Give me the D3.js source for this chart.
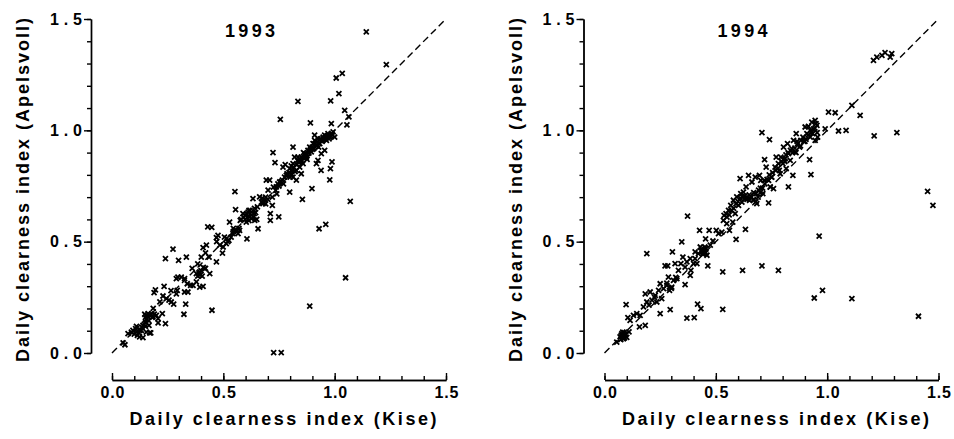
<!DOCTYPE html>
<html>
<head>
<meta charset="utf-8">
<script src="https://cdn.jsdelivr.net/npm/d3@7"></script>
<style>
  body { margin: 0; background: #fff; }
  text { font-family: "Liberation Sans", Arial, sans-serif; font-weight: bold; fill: #000; }
</style>
</head>
<body>
<div id="chart"></div>
<script>
const width = 954, height = 439;

// 1993: Kise (x) vs Apelsvoll (y) daily clearness index
const kise1993 = [
  1.142, 1.232, 1.007, 1.034, 1.019, 0.835, 0.982, 1.045, 1.064, 1.055, 0.756, 0.891, 0.985,
  0.723, 0.732, 0.778, 0.813, 0.988, 0.981, 0.939, 0.918, 0.978, 0.898, 0.855, 1.070, 0.798,
  0.749, 0.711, 0.930, 0.960, 1.049, 0.888, 0.726, 0.760, 0.449, 0.552, 0.555, 0.430, 0.448,
  0.274, 0.240, 0.299, 0.334, 0.331, 0.323, 0.240, 0.234, 0.195, 0.189, 0.058, 0.050, 0.169, 0.124,
  0.072, 0.087, 0.094, 0.106, 0.114, 0.132, 0.139, 0.151, 0.147, 0.162, 0.177, 0.184, 0.166,
  0.174, 0.154, 0.199, 0.207, 0.226, 0.207, 0.139, 0.121,
  0.229, 0.244, 0.256, 0.266, 0.277, 0.289, 0.293, 0.289, 0.296, 0.311, 0.326, 0.338, 0.341,
  0.326, 0.353, 0.364, 0.379, 0.394, 0.409, 0.379, 0.394, 0.416, 0.401, 0.409, 0.424, 0.436,
  0.439, 0.469, 0.476, 0.469, 0.496, 0.484, 0.499, 0.513, 0.525, 0.543, 0.528, 0.551, 0.566,
  0.573, 0.576, 0.588, 0.600, 0.611, 0.618, 0.603, 0.606, 0.633, 0.626, 0.638, 0.641, 0.653,
  0.656, 0.663, 0.671, 0.678, 0.686, 0.693, 0.701, 0.708, 0.711, 0.720, 0.738, 0.745, 0.753,
  0.765, 0.775, 0.786, 0.798, 0.805, 0.813, 0.820, 0.828, 0.835, 0.843, 0.850, 0.858, 0.865,
  0.873, 0.880, 0.888, 0.895, 0.903, 0.910, 0.918, 0.925, 0.933, 0.940, 0.948, 0.955, 0.963,
  0.970, 0.978, 0.985, 1.000, 0.993, 0.910, 0.828, 0.850, 0.813, 0.783, 0.768, 0.925, 0.940,
  0.955, 0.580, 0.615, 0.640, 0.690, 0.725, 0.760, 0.790, 0.805, 0.840, 0.870, 0.900, 0.920,
  0.950, 0.968, 0.545, 0.505, 0.470, 0.420, 0.385, 0.360, 0.265, 0.215, 0.185, 0.150, 0.110,
  0.830, 0.838, 0.845, 0.853, 0.862, 0.868, 0.876, 0.884, 0.892, 0.899, 0.906, 0.913, 0.921,
  0.928, 0.936, 0.944, 0.951, 0.958, 0.966, 0.975, 0.983, 0.990, 0.815, 0.822, 0.808, 0.800,
  0.795, 0.860, 0.835, 0.605, 0.612, 0.620, 0.628, 0.635, 0.598, 0.590, 0.615, 0.645, 0.650,
  0.560, 0.570, 0.545, 0.535, 0.520, 0.515, 0.680, 0.690, 0.700, 0.675, 0.720, 0.735, 0.750,
  0.740, 0.770, 0.135, 0.145, 0.155, 0.160, 0.170, 0.180, 0.190, 0.125, 0.110, 0.100, 0.165,
  0.150, 0.390, 0.400, 0.410, 0.420, 0.395, 0.405, 0.385
];
const apel1993 = [
  1.442, 1.295, 1.235, 1.256, 1.165, 1.130, 1.132, 1.090, 1.060, 1.025, 1.049, 1.034, 1.030,
  0.900, 0.855, 0.846, 0.925, 0.858, 0.828, 0.820, 0.850, 0.778, 0.738, 0.690, 0.681, 0.722,
  0.611, 0.596, 0.558, 0.578, 0.338, 0.211, 0.002, 0.002, 0.192, 0.725, 0.644, 0.566, 0.564,
  0.466, 0.424, 0.416, 0.431, 0.219, 0.174, 0.132, 0.299, 0.284, 0.271, 0.037, 0.045, 0.090, 0.072,
  0.087, 0.094, 0.102, 0.109, 0.079, 0.102, 0.124, 0.139, 0.174, 0.177, 0.174, 0.162, 0.124,
  0.090, 0.094, 0.169, 0.154, 0.177, 0.135, 0.069, 0.090,
  0.256, 0.244, 0.237, 0.229, 0.219, 0.266, 0.281, 0.334, 0.341, 0.341, 0.334, 0.311, 0.274,
  0.274, 0.304, 0.304, 0.319, 0.296, 0.299, 0.356, 0.364, 0.379, 0.431, 0.473, 0.484, 0.431,
  0.356, 0.518, 0.528, 0.409, 0.449, 0.484, 0.476, 0.491, 0.506, 0.536, 0.588, 0.551, 0.536,
  0.551, 0.596, 0.626, 0.618, 0.633, 0.611, 0.588, 0.513, 0.693, 0.603, 0.626, 0.596, 0.656,
  0.558, 0.701, 0.678, 0.671, 0.686, 0.776, 0.731, 0.776, 0.626, 0.663, 0.746, 0.760, 0.768,
  0.776, 0.790, 0.805, 0.828, 0.805, 0.850, 0.880, 0.820, 0.865, 0.835, 0.805, 0.850, 0.895,
  0.880, 0.910, 0.925, 0.903, 0.940, 0.955, 0.933, 0.963, 0.940, 0.955, 0.970, 0.978, 0.955,
  0.985, 0.970, 0.985, 0.970, 0.993, 0.978, 0.776, 0.880, 0.790, 0.798, 0.835, 0.865, 0.895,
  0.910, 0.600, 0.640, 0.650, 0.700, 0.745, 0.770, 0.800, 0.840, 0.860, 0.890, 0.915, 0.930,
  0.960, 0.975, 0.560, 0.520, 0.500, 0.450, 0.400, 0.380, 0.280, 0.230, 0.200, 0.160, 0.120,
  0.845, 0.858, 0.870, 0.862, 0.875, 0.890, 0.870, 0.898, 0.915, 0.925, 0.918, 0.940, 0.948,
  0.925, 0.962, 0.950, 0.958, 0.968, 0.975, 0.962, 0.975, 0.980, 0.835, 0.815, 0.818, 0.790,
  0.810, 0.900, 0.880, 0.625, 0.615, 0.640, 0.620, 0.610, 0.600, 0.610, 0.595, 0.630, 0.600,
  0.550, 0.560, 0.545, 0.520, 0.500, 0.515, 0.680, 0.670, 0.690, 0.695, 0.700, 0.730, 0.750,
  0.715, 0.760, 0.115, 0.130, 0.150, 0.165, 0.170, 0.160, 0.175, 0.100, 0.095, 0.085, 0.145,
  0.120, 0.360, 0.370, 0.385, 0.380, 0.350, 0.345, 0.345
];

// 1994
const kise1994 = [
  1.208, 1.223, 1.246, 1.260, 1.290, 1.283, 1.006, 1.036, 1.111, 1.148, 1.051, 1.085, 1.211,
  1.313, 0.991, 0.707, 0.741, 0.719, 0.921, 0.927, 0.826, 0.737, 1.451, 1.475, 0.964, 0.942,
  0.979, 1.111, 1.410, 0.707, 0.781, 0.620, 0.531, 0.464, 0.531, 0.433, 0.418, 0.403, 0.370,
  0.373, 0.591, 0.633, 0.295, 0.250, 0.157, 0.183, 0.097, 0.105, 0.115, 0.190, 0.305, 0.347,
  0.362, 0.280, 0.272, 0.284,
  0.055, 0.070, 0.078, 0.085, 0.082, 0.093, 0.073, 0.130, 0.145, 0.160, 0.175, 0.183, 0.205,
  0.190, 0.213, 0.228, 0.235, 0.243, 0.250, 0.257, 0.265, 0.280, 0.287, 0.292, 0.302, 0.310,
  0.325, 0.317, 0.332, 0.343, 0.352, 0.362, 0.370, 0.385, 0.388, 0.385, 0.400, 0.407, 0.407,
  0.415, 0.422, 0.427, 0.430, 0.437, 0.445, 0.451, 0.454, 0.460, 0.470, 0.475, 0.487, 0.502,
  0.512, 0.527, 0.534, 0.537, 0.546, 0.557, 0.549, 0.561, 0.567, 0.576, 0.579, 0.587, 0.594,
  0.602, 0.609, 0.612, 0.617, 0.624, 0.632, 0.636, 0.647, 0.651, 0.657, 0.662, 0.669, 0.677,
  0.681, 0.684, 0.692, 0.696, 0.702, 0.711, 0.717, 0.726, 0.737, 0.744, 0.751, 0.759, 0.766,
  0.771, 0.781, 0.789, 0.792, 0.801, 0.804, 0.811, 0.816, 0.822, 0.826, 0.834, 0.841, 0.849,
  0.846, 0.856, 0.861, 0.867, 0.876, 0.882, 0.891, 0.901, 0.909, 0.916, 0.924, 0.931, 0.939,
  0.946, 0.954, 0.957, 0.946, 0.440, 0.455, 0.640, 0.670, 0.700, 0.750, 0.785, 0.810, 0.860,
  0.900, 0.930, 0.090, 0.100, 0.110, 0.200, 0.225, 0.300, 0.320,
  0.550, 0.560, 0.570, 0.580, 0.590, 0.600, 0.610, 0.620, 0.630, 0.640, 0.650, 0.660, 0.670,
  0.680, 0.690, 0.700, 0.710, 0.720, 0.730, 0.740, 0.755, 0.770, 0.780, 0.795, 0.805, 0.815,
  0.825, 0.835, 0.845, 0.855, 0.865, 0.880, 0.895, 0.905, 0.915, 0.925, 0.935, 0.945, 0.955,
  0.950, 0.080, 0.090, 0.095, 0.088, 0.075, 0.435, 0.445, 0.450, 0.440, 0.455
];
const apel1994 = [
  1.314, 1.329, 1.337, 1.349, 1.344, 1.329, 1.082, 1.079, 1.112, 1.067, 0.997, 1.000, 0.975,
  0.990, 1.007, 0.990, 0.958, 0.868, 0.868, 0.801, 0.746, 0.674, 0.726, 0.663, 0.525, 0.247,
  0.281, 0.244, 0.165, 0.391, 0.371, 0.371, 0.364, 0.391, 0.196, 0.199, 0.219, 0.159, 0.157,
  0.615, 0.510, 0.555, 0.195, 0.177, 0.117, 0.124, 0.217, 0.159, 0.147, 0.446, 0.454, 0.499,
  0.307, 0.314, 0.391, 0.391,
  0.049, 0.072, 0.087, 0.064, 0.094, 0.079, 0.060, 0.169, 0.177, 0.169, 0.207, 0.266, 0.274,
  0.229, 0.237, 0.259, 0.229, 0.281, 0.311, 0.244, 0.289, 0.304, 0.341, 0.281, 0.296, 0.326,
  0.334, 0.401, 0.371, 0.401, 0.431, 0.386, 0.409, 0.424, 0.371, 0.349, 0.401, 0.424, 0.454,
  0.401, 0.446, 0.551, 0.476, 0.454, 0.446, 0.476, 0.513, 0.439, 0.551, 0.484, 0.503, 0.551,
  0.536, 0.543, 0.596, 0.618, 0.626, 0.641, 0.581, 0.551, 0.663, 0.588, 0.686, 0.626, 0.701,
  0.663, 0.783, 0.716, 0.678, 0.723, 0.693, 0.746, 0.798, 0.686, 0.701, 0.768, 0.686, 0.790,
  0.716, 0.671, 0.731, 0.798, 0.775, 0.716, 0.775, 0.835, 0.775, 0.746, 0.790, 0.738, 0.835,
  0.880, 0.850, 0.805, 0.880, 0.850, 0.925, 0.873, 0.828, 0.940, 0.895, 0.865, 0.918, 0.955,
  0.798, 0.903, 0.985, 0.940, 0.925, 0.955, 0.970, 1.015, 0.985, 1.018, 0.970, 1.037, 1.007,
  1.045, 1.022, 0.970, 0.955, 0.460, 0.470, 0.690, 0.720, 0.740, 0.790, 0.820, 0.860, 0.900,
  0.950, 0.990, 0.085, 0.070, 0.095, 0.215, 0.250, 0.290, 0.340,
  0.610, 0.620, 0.640, 0.650, 0.670, 0.680, 0.695, 0.700, 0.705, 0.700, 0.710, 0.700, 0.690,
  0.680, 0.700, 0.720, 0.740, 0.760, 0.780, 0.800, 0.810, 0.820, 0.830, 0.860, 0.870, 0.890,
  0.900, 0.910, 0.900, 0.920, 0.950, 0.930, 0.950, 0.960, 0.980, 1.000, 0.985, 1.010, 0.990,
  1.030, 0.075, 0.068, 0.085, 0.092, 0.080, 0.460, 0.455, 0.465, 0.445, 0.450
];

const panels = [
  { title: "1993", kise: kise1993, apel: apel1993, left: 112, labelX: 29 },
  { title: "1994", kise: kise1994, apel: apel1994, left: 604.5, labelX: 522 }
];
const majorTicks = [0, 0.5, 1.0, 1.5];
const minorTicks = d3.range(0, 16).map(i => i / 10);

const size = 334, topY = 19;

const svg = d3.select("#chart")
  .append("svg")
  .attr("width", width)
  .attr("height", height);

function styleAxis(sel) {
  sel.attr("font-family", null).attr("font-size", 16);
  sel.selectAll(".domain").attr("stroke", "#000").attr("stroke-width", 1.4);
  sel.selectAll(".tick line").attr("stroke", "#000").attr("stroke-width", 1.4);
}

panels.forEach(p => {
  const g = svg.append("g").attr("transform", `translate(${p.left},${topY})`);
  const x = d3.scaleLinear().domain([0, 1.5]).range([0, size]);
  const y = d3.scaleLinear().domain([0, 1.5]).range([size, 0]);

  // y axis, shifted left of the plot area
  g.append("g").attr("transform", "translate(-21,0)")
    .call(d3.axisLeft(y).tickValues(minorTicks).tickSize(4).tickSizeOuter(0).tickFormat(""))
    .call(styleAxis);
  const yg = g.append("g").attr("transform", "translate(-21,0)")
    .call(d3.axisLeft(y).tickValues(majorTicks).tickSize(7).tickSizeOuter(0)
      .tickPadding(2).tickFormat(d3.format(".1f")))
    .call(styleAxis);
  yg.selectAll(".tick text")
    .attr("textLength", 32).attr("lengthAdjust", "spacing");

  // x axis below the plot area, ticks pointing up
  g.append("g").attr("transform", `translate(0,${size + 27})`)
    .call(d3.axisBottom(x).tickValues(minorTicks).tickSize(-4).tickSizeOuter(0).tickFormat(""))
    .call(styleAxis);
  const xg = g.append("g").attr("transform", `translate(0,${size + 27})`)
    .call(d3.axisBottom(x).tickValues(majorTicks).tickSize(-7).tickSizeOuter(0)
      .tickPadding(7).tickFormat(d3.format(".1f")))
    .call(styleAxis);
  xg.selectAll(".tick text")
    .attr("textLength", 24).attr("lengthAdjust", "spacing");

  // 1:1 line
  g.append("line")
    .attr("x1", x(0)).attr("y1", y(0))
    .attr("x2", x(1.5)).attr("y2", y(1.5))
    .attr("stroke", "#000")
    .attr("stroke-width", 1.4)
    .attr("stroke-dasharray", "7,4");

  // x markers
  const pts = p.kise.map((k, i) => [k, p.apel[i]]);
  const s = 2.5;
  g.append("g").selectAll("path")
    .data(pts)
    .join("path")
    .attr("d", d => {
      const cx = x(d[0]), cy = y(d[1]);
      return `M${cx - s},${cy - s}L${cx + s},${cy + s}M${cx - s},${cy + s}L${cx + s},${cy - s}`;
    })
    .attr("stroke", "#000")
    .attr("stroke-width", 1.8)
    .attr("fill", "none");

  g.append("text")
    .attr("x", 138).attr("y", 37 - topY)
    .attr("text-anchor", "middle")
    .style("font-size", "18px")
    .attr("textLength", 50).attr("lengthAdjust", "spacing")
    .text(p.title);

  g.append("text")
    .attr("x", size / 2 + 4).attr("y", 425 - topY)
    .attr("text-anchor", "middle")
    .style("font-size", "18px")
    .attr("textLength", 307).attr("lengthAdjust", "spacing")
    .text("Daily clearness index (Kise)");

  g.append("text")
    .attr("transform", `translate(${p.labelX - p.left},${190 - topY}) rotate(-90)`)
    .attr("text-anchor", "middle")
    .style("font-size", "18px")
    .attr("textLength", 344).attr("lengthAdjust", "spacing")
    .text("Daily clearness index (Apelsvoll)");
});
</script>
</body>
</html>
